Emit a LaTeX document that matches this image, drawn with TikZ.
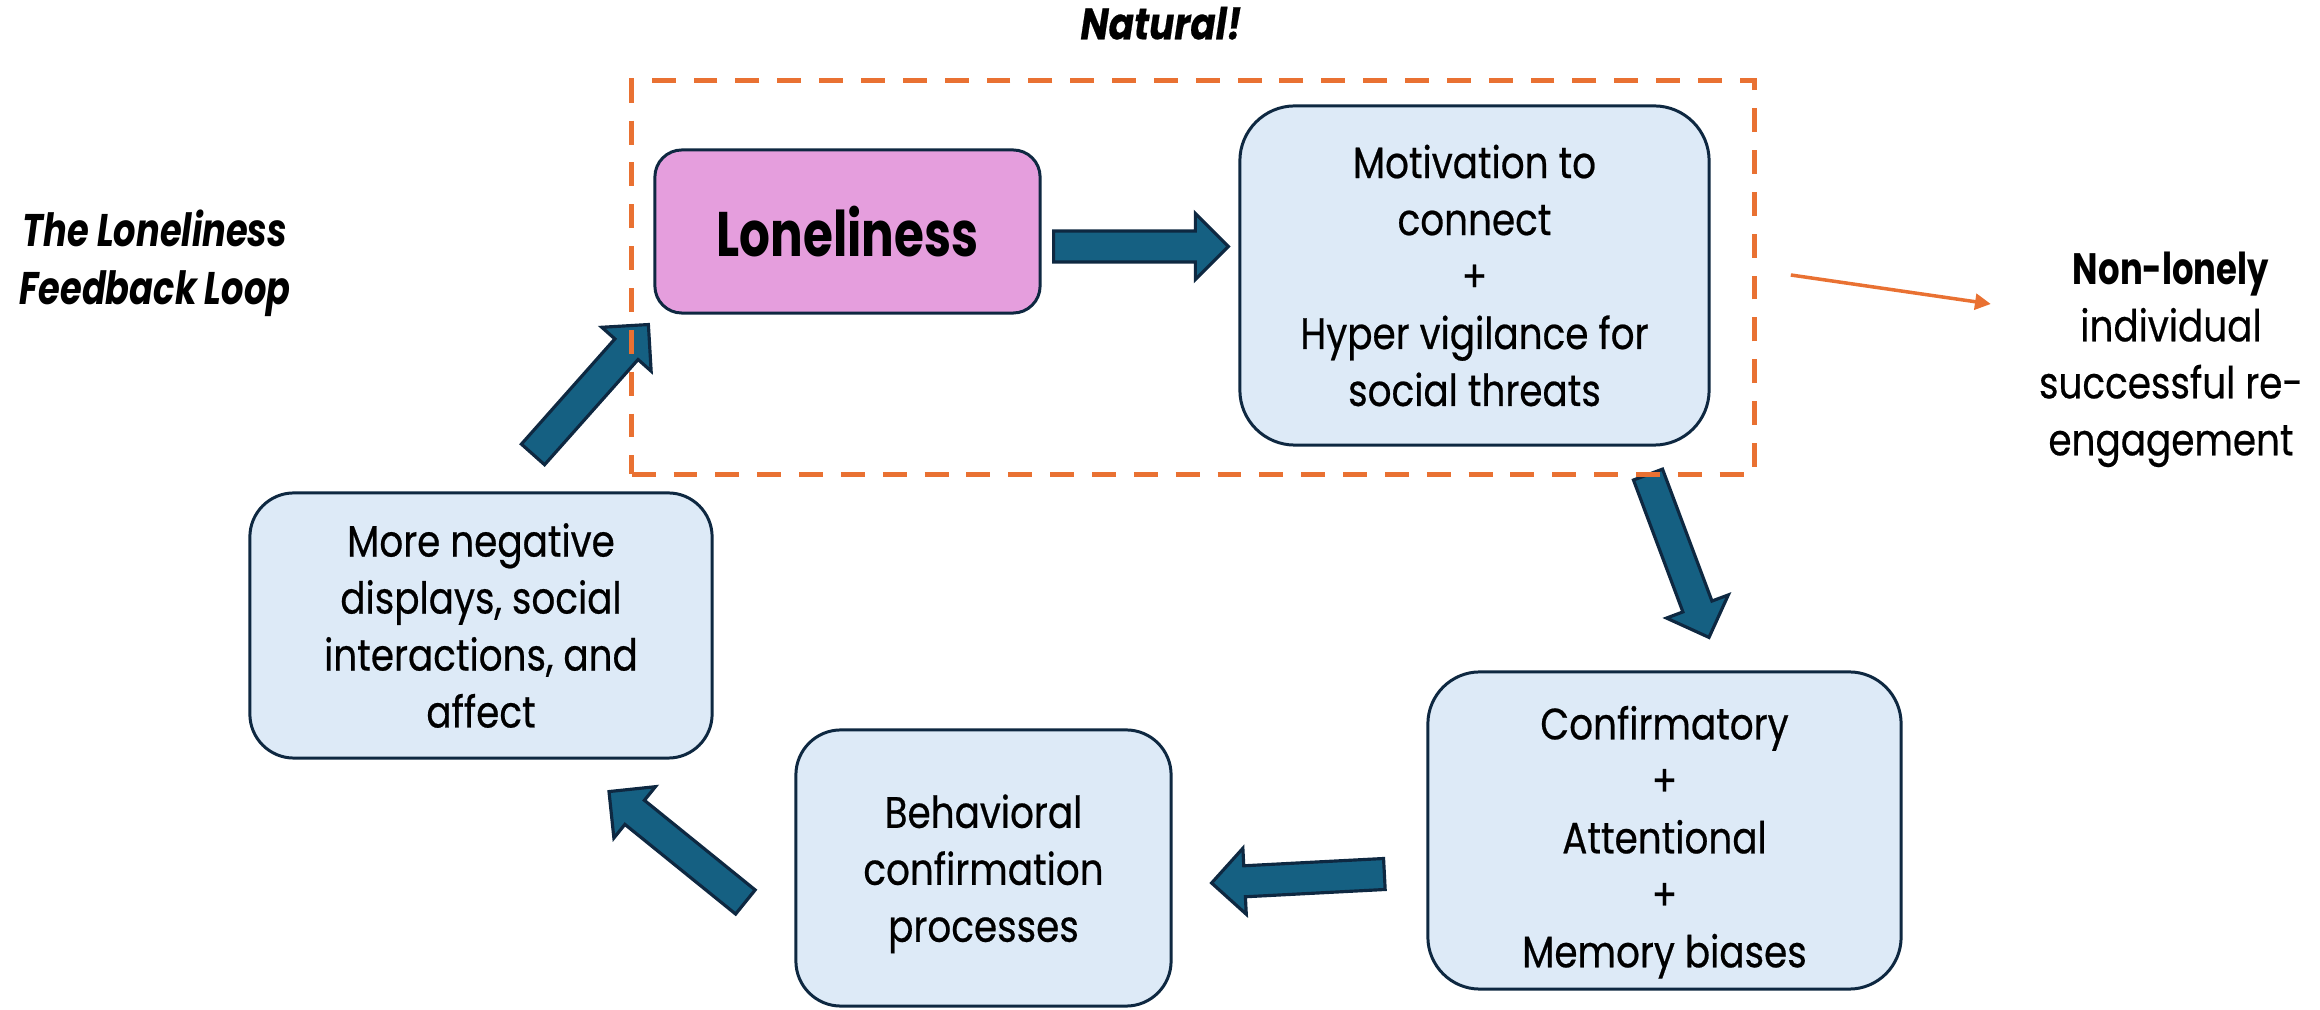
\documentclass[tikz,border=0pt]{standalone}
\usepackage{fontspec}
\setmainfont{Poppins}[FakeStretch=0.85,FakeBold=0.5]
\newfontfamily\narrowbold{Poppins}[FakeStretch=0.77]
\usetikzlibrary{arrows.meta,positioning,calc}

\definecolor{boxblue}{RGB}{221,234,247}
\definecolor{boxline}{RGB}{14,40,65}
\definecolor{lonepink}{RGB}{229,158,221}
\definecolor{arrowblue}{RGB}{21,96,130}
\definecolor{natorange}{RGB}{233,113,50}

% block arrow from tail (#1) to tip (#2)
\newcommand{\feedbackarrow}[2]{%
  \coordinate (head base) at ($(#2)!0.33cm!(#1)$);
  \filldraw[looparrow]
    ($(#1)!0.155cm!90:(#2)$) -- ($(head base)!0.155cm!90:(#2)$) --
    ($(head base)!0.33cm!90:(#2)$) -- (#2) --
    ($(head base)!0.33cm!-90:(#2)$) -- ($(head base)!0.155cm!-90:(#2)$) --
    ($(#1)!0.155cm!-90:(#2)$) -- cycle;}

\begin{document}
\begin{tikzpicture}[x=0.01cm,y=-0.01cm]

  \tikzstyle{every node}=[font=\fontsize{12.5}{16.2}\selectfont]

  \tikzset{stagebox/.style={draw=boxline,line width=0.85pt,fill=boxblue,
      align=center,inner sep=0pt},
    looparrow/.style={fill=arrowblue,draw=boxline,line width=0.9pt,line join=miter},
    natframe/.style={draw=natorange,line width=1.42pt,dash pattern=on 6.8pt off 5.1pt,
      inner sep=0pt},
    tagtext/.style={font=\fontsize{12.5}{16.5}\selectfont\bfseries\itshape,
      align=center,inner sep=0pt},
    outcome/.style={draw=natorange,line width=1pt,
      -{Triangle[length=4.5pt,width=4.5pt]}}}

  \useasboundingbox (0,0) rectangle (2320,1010);

  % Stages of the loop
  \node[stagebox,fill=lonepink,minimum width=3.85cm,minimum height=1.63cm,
    rounded corners=0.27cm] (Loneliness) at (847.5,231.5)
    {\fontsize{17.9}{20}\selectfont\narrowbold\bfseries Loneliness};
  \node[stagebox,minimum width=4.69cm,minimum height=3.39cm,
    rounded corners=0.55cm] (Motivation) at (1474.5,275.5)
    {Motivation to\\connect\\+\\Hyper vigilance for\\social threats};
  \node[stagebox,minimum width=4.73cm,minimum height=3.17cm,
    rounded corners=0.52cm] (Biases) at (1664.5,830.5)
    {\rule{0pt}{0.57cm}Confirmatory\\+\\Attentional\\+\\Memory biases};
  \node[stagebox,minimum width=3.75cm,minimum height=2.76cm,
    rounded corners=0.45cm] (Behavioral) at (983.5,868)
    {\rule{0pt}{0.45cm}Behavioral\\confirmation\\processes};
  \node[stagebox,minimum width=4.62cm,minimum height=2.65cm,
    rounded corners=0.44cm] (Negative) at (481,625.5)
    {More negative\\displays, social\\interactions, and\\affect};

  % Arrows between the stages
  \coordinate (a1 tail) at ($(Loneliness.east) + (12,15)$);
  \coordinate (a1 tip) at ($(Motivation.west) + (-10,-29)$);
  \feedbackarrow{a1 tail}{a1 tip}

  \coordinate (a2 tail) at ($(Motivation.south) + (173.5,28)$);
  \coordinate (a2 tip) at ($(Biases.north) + (44.5,-33)$);
  \feedbackarrow{a2 tail}{a2 tip}

  \coordinate (a3 tail) at ($(Biases.west) + (-42,43.5)$);
  \coordinate (a3 tip) at ($(Behavioral.east) + (39,15)$);
  \feedbackarrow{a3 tail}{a3 tip}

  \coordinate (a4 tail) at ($(Behavioral.west) + (-49,34)$);
  \coordinate (a4 tip) at ($(Negative.south) + (128,32)$);
  \feedbackarrow{a4 tail}{a4 tip}

  \coordinate (a5 tail) at ($(Negative.north) + (52,-37)$);
  \coordinate (a5 tip) at ($(Loneliness.south west) + (-5,10)$);
  \feedbackarrow{a5 tail}{a5 tip}

  % Dashed frame round the natural part
  \node[natframe,minimum width=11.22cm,minimum height=3.93cm] (frame) at (1193,277.5) {};
  \node[tagtext,above=0.38cm of frame.north,xshift=-0.32cm] (Natural) {Natural!};

  % Titles
  \node[tagtext,font=\fontsize{13}{16.5}\selectfont\narrowbold\bfseries\itshape] (title)
    at (155,263) {The Loneliness\\Feedback Loop};
  \node[align=center,inner sep=0pt] (nonlonely) at (2171,359.5)
    {{\narrowbold\bfseries Non-lonely}\\individual\\successful re-\\engagement};

  % Way out of the loop
  \coordinate (exit) at ($(frame.east) + (34,-2.5)$);
  \coordinate (reach) at ($(frame.east) + (234,26.5)$);
  \draw[outcome] (exit) -- (reach);

\end{tikzpicture}
\end{document}
